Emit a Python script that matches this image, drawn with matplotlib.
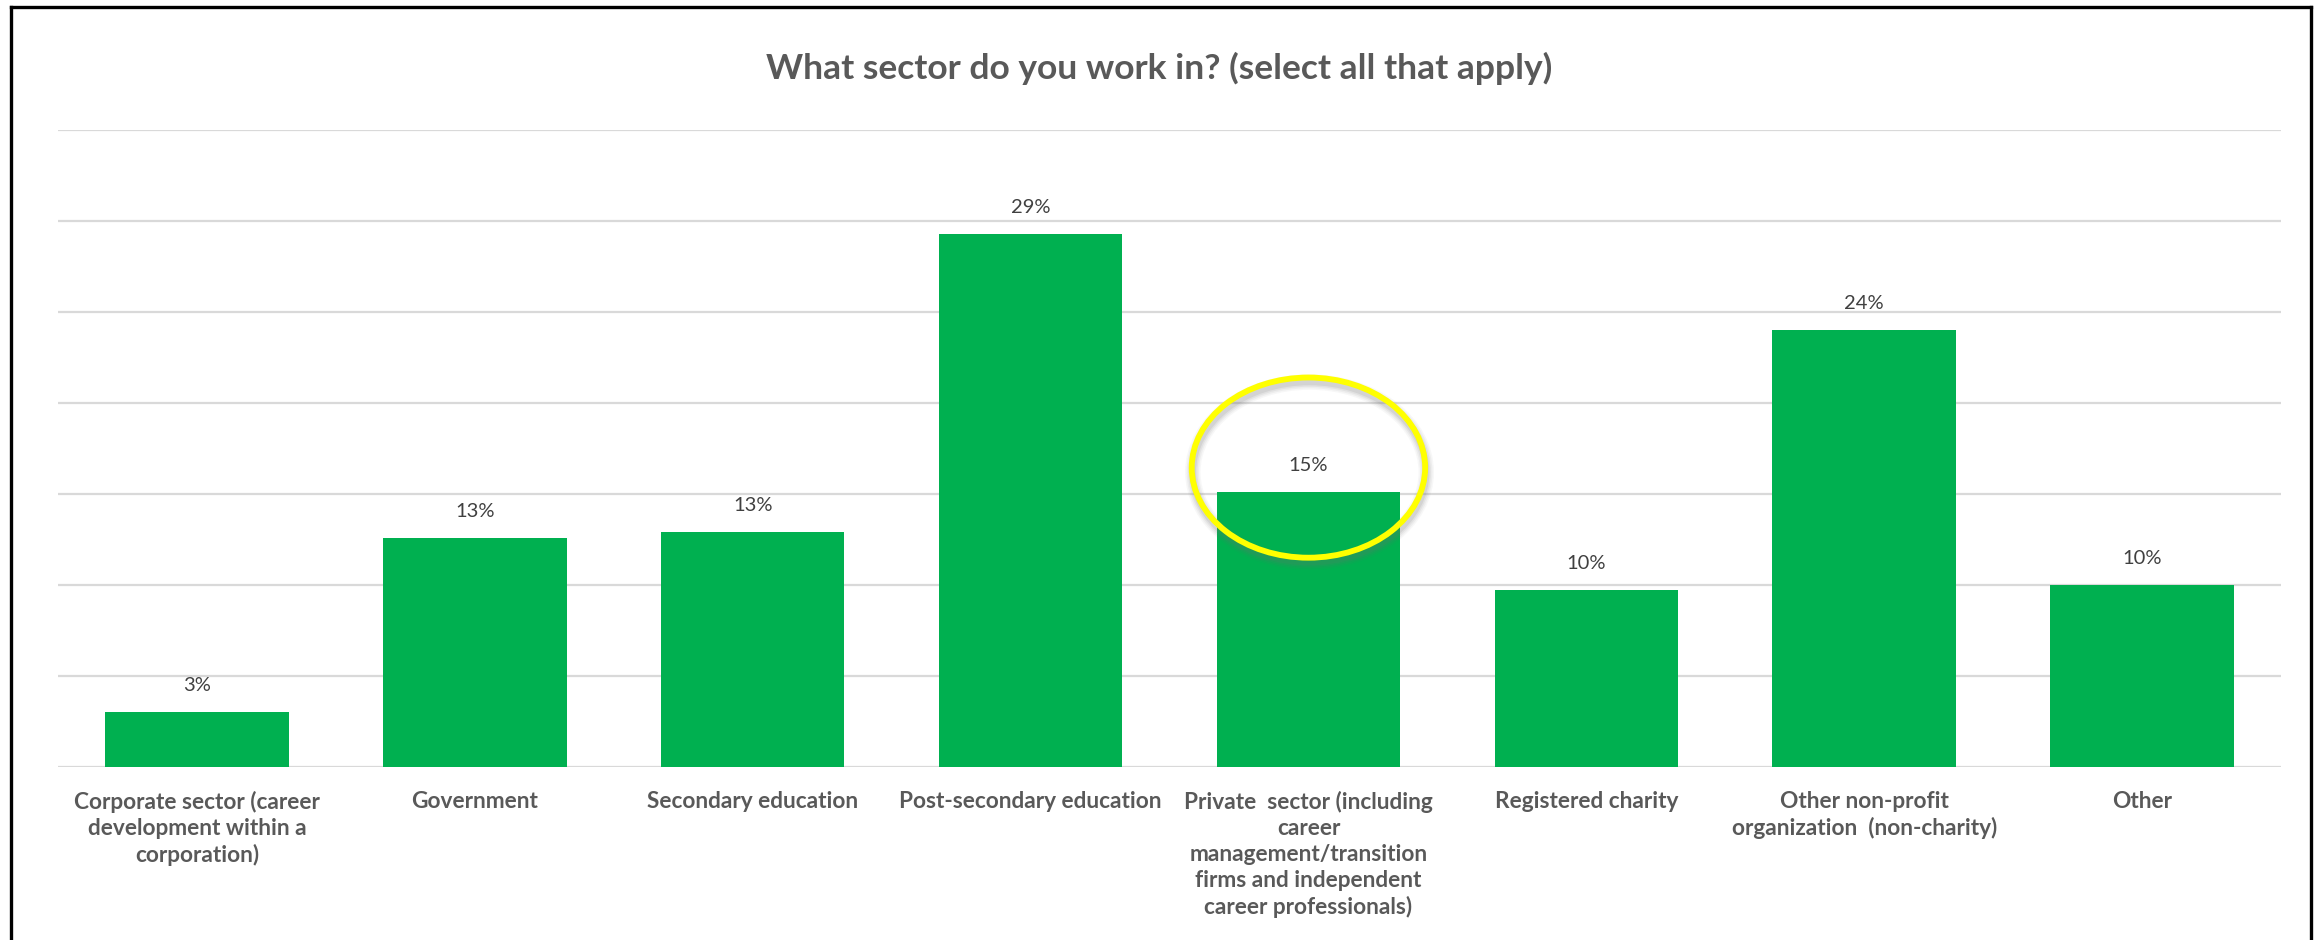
import matplotlib
matplotlib.use("Agg")
import matplotlib.pyplot as plt
from matplotlib.patches import Ellipse
from matplotlib.lines import Line2D

# Survey responses
categories = [
    "Corporate sector (career\ndevelopment within a\ncorporation)",
    "Government",
    "Secondary education",
    "Post-secondary education",
    "Private  sector (including\ncareer\nmanagement/transition\nfirms and independent\ncareer professionals)",
    "Registered charity",
    "Other non-profit\norganization  (non-charity)",
    "Other",
]
shares = [3.0, 12.6, 12.9, 29.3, 15.1, 9.7, 24.0, 10.0]
highlight_index = 4
y_ticks = [0, 5, 10, 15, 20, 25, 30, 35]

W, H, DPI = 2318, 940, 100
fig = plt.figure(figsize=(W / DPI, H / DPI), dpi=DPI)
fig.patch.set_facecolor("white")

ax = fig.add_axes([58 / W, 1 - 767 / H, (2281 - 58) / W, (767 - 130) / H])
ax.set_xlim(-0.5, len(categories) - 0.5)
ax.set_ylim(0, 35)

green = "#00B050"
x = list(range(len(categories)))
ax.bar(x, shares, width=0.66, color=green, zorder=3)

for yv in y_ticks:
    ax.axhline(yv, color="#D9D9D9", lw=1.6, zorder=1)

for xi, v in zip(x, shares):
    ax.annotate(f"{round(v):d}%", (xi, v), xytext=(0, 13), textcoords="offset points",
                ha="center", va="bottom", fontsize=14.5, color="#404040",
                family="Lato", zorder=5)

ax.set_xticks(x)
ax.set_xticklabels(categories, fontsize=16.3, fontweight="bold", color="#595959",
                   family="Lato", linespacing=1.3, va="top")
ax.tick_params(axis="x", length=0, pad=17)
ax.set_yticks([])
for s in ax.spines.values():
    s.set_visible(False)

# Highlight ring around the private-sector value, with a soft shadow
cx, cy = highlight_index, shares[highlight_index] + 1.35
for i, a in enumerate([0.05, 0.07, 0.09, 0.12]):
    ax.add_patch(Ellipse((cx + 0.004, cy - 0.25), 0.84, 9.9, fill=False,
                         edgecolor="#707070", lw=4.5 + (3 - i) * 2.2,
                         alpha=a, zorder=6))
ax.add_patch(Ellipse((cx, cy), 0.84, 9.9, fill=False, edgecolor="#FFFF00",
                     lw=4.2, zorder=7))

fig.text(0.5, 1 - 68 / H, "What sector do you work in? (select all that apply)",
         ha="center", va="center", fontsize=25.5, fontweight="bold",
         color="#595959", family="Lato")

# Outer frame (open at the bottom)
fx0, fx1, fy1 = 10.5 / W, 2311 / W, 1 - 7 / H
for xs, ys in [([fx0, fx0], [0, fy1]), ([fx0, fx1], [fy1, fy1]), ([fx1, fx1], [fy1, 0])]:
    fig.add_artist(Line2D(xs, ys, color="black", lw=2.4, transform=fig.transFigure,
                          solid_capstyle="projecting"))

fig.savefig("out.png", dpi=DPI, facecolor="white")
